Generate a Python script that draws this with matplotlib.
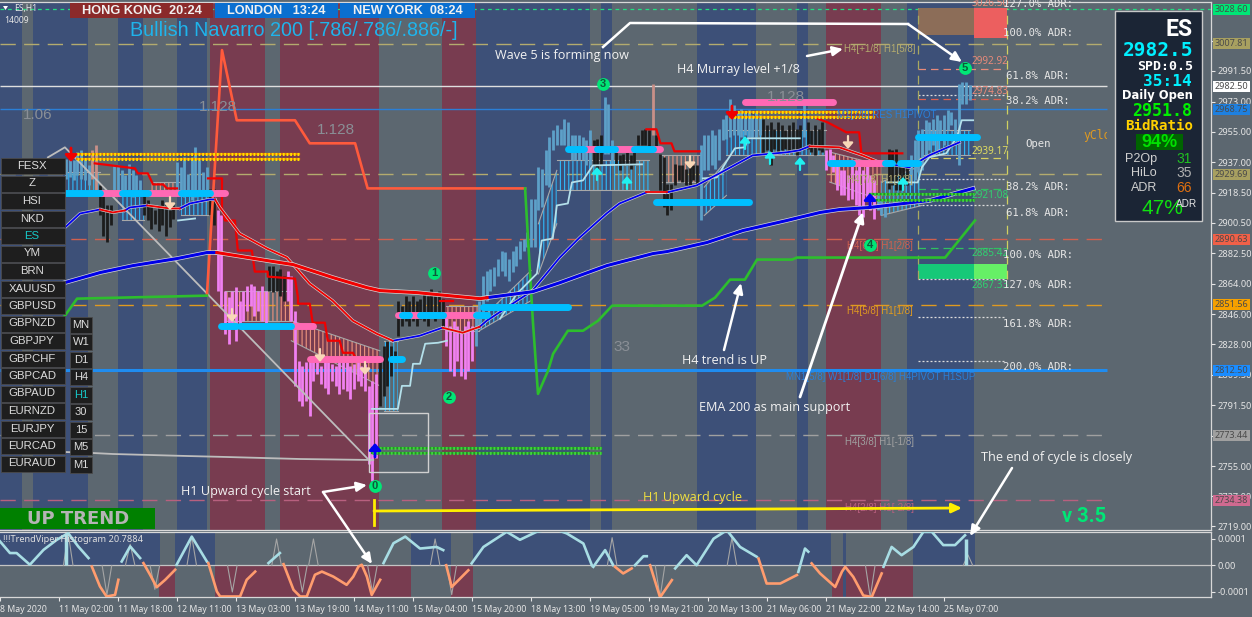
import matplotlib
matplotlib.use("Agg")
import matplotlib.pyplot as plt
from matplotlib.patches import Rectangle

W, H = 1252, 617
BG = '#5c6770'; BLUEBG = '#3d5078'; REDBG = '#783c50'
plt.rcParams['hatch.linewidth'] = 0.85

# ---------- shaded sessions (bar index) ----------
blue_spans = [(0,6),(8.9,23.9),(32,38.8),(48,56.1),(129.1,160),(163,166),(189,205),(216.1,219.1),(246,264.1)]
red_spans = [(56.9,71.9),(75.9,102.8),(119.9,129.1),(224,238.9)]
sub_blue = [(0,43.4),(47.5,58.3),(111.5,122.3),(128.3,225.4),(228.6,229.4),(247.6,264.4)]
sub_red = [(43.1,47.5),(58.3,111.5),(122.3,128.3),(225.6,229.4),(229.4,247.6)]

# ---------- levels ----------
level_price = [3007.81,2929.69,2890.63,2851.56,2773.44,2734.38]
level_color = ['#b3ab6e','#b3ab6e','#d0604f','#e09a20','#a0a0a0','#b8607f']
tag_price = [3028.60,3007.81,2982.50,2968.75,2929.69,2890.63,2851.56,2812.50,2773.44,2734.38]
tag_face = ['#00e676','#a8a060','#ffffff','#1e80e0','#a8a060','#f06048','#f5a000','#1a8cff','#a0a0a0','#d06a90']
adr_price = [2992.9,2977,2974.8,2939.2,2926.6,2921,2911,2885.4,2867,2844,2818]
adr_color = ['#e88a7a','#dddddd','#e0604f','#d8d060','#dddddd','#30c060','#dddddd','#30c060','#dddddd','#dddddd','#dddddd']
y_ticks = [3009.5,2991.5,2973,2955,2937,2918.5,2900.5,2882.5,2864,2846,2828,2809.5,2791.5,2773,2755,2737,2719]
y_hidden = [3009.5,2773]
x_labels = ['8 May 2020','11 May 02:00','11 May 18:00','12 May 11:00','13 May 03:00','13 May 19:00','14 May 11:00',
            '15 May 04:00','15 May 20:00','18 May 13:00','19 May 05:00','19 May 21:00','20 May 13:00','21 May 06:00',
            '21 May 22:00','22 May 14:00','25 May 07:00']

# ---------- candles: (colour, first bar, highs, lows) ----------
candles = [
 ('b',18,[2939,2941,2938,2943,2944,2939,2935],[2927,2928,2926,2929,2927,2926,2923]),
 ('r',25,[2944,2947],[2927,2920]),
 ('k',27,[2923,2917,2911,2911],[2905,2893,2889,2899]),
 ('b',31,[2935,2935,2932,2929,2936,2932,2929,2926],[2920,2917,2920,2917,2918,2916,2918,2919]),
 ('k',39,[2917,2914,2911,2908,2911,2914,2911,2908,2911],[2905,2902,2897,2900,2896,2899,2893,2898,2903]),
 ('b',48,[2937,2934,2940,2930,2940,2946,2938,2931,2934],[2919,2917,2916,2920,2914,2916,2920,2919,2918]),
 ('k',57,[2921,2921],[2905,2899]),
 ('p',59,[2908,2905,2860,2856,2860,2862,2854],[2860,2850,2834,2828,2840,2830,2838]),
 ('p',66,[2860,2863,2864,2863,2860,2863,2860],[2842,2848,2851,2845,2848,2842,2839]),
 ('k',73,[2875,2875,2872,2873,2869],[2860,2859,2860,2857,2854]),
 ('p',78,[2872,2869],[2854,2842]),
 ('p',80,[2848,2818,2815,2817,2818],[2803,2794,2791,2794,2785]),
 ('p',85,[2820,2818,2815,2818,2817,2816,2815,2820,2819,2817,2815,2816,2818,2815,2816],
         [2806,2810,2804,2802,2798,2806,2803,2798,2801,2800,2795,2801,2806,2803,2800]),
 ('p',100,[2803,2806,2810],[2756,2746,2760]),
 ('k',103,[2821,2827,2830,2827,2824],[2791,2797,2803,2809,2818]),
 ('k',108,[2854,2851,2857,2854,2857,2854,2855,2859,2857,2861,2857,2860,2855],
          [2833,2839,2842,2839,2842,2839,2843,2842,2839,2845,2842,2845,2839]),
 ('p',121,[2845,2839,2842,2839,2836,2839,2842,2839],[2827,2812,2809,2818,2809,2807,2812,2818]),
 ('b',129,[2848,2854,2869,2872],[2827,2839,2845,2854]),
 ('b',133,[2873,2874,2879,2884,2883,2879,2884,2887,2890,2891,2895],[2860,2863,2869,2872,2869,2866,2871,2875,2879,2884,2886]),
 ('b',144,[2915,2915,2934,2933,2944,2952],[2886,2886,2908,2910,2923,2922]),
 ('b',150,[2956,2959,2957,2963,2961,2953],[2944,2947,2947,2947,2944,2938]),
 ('b',156,[2953,2953,2952,2950,2956],[2938,2938,2938,2935,2935]),
 ('k',161,[2950,2951,2953],[2935,2932,2935]),
 ('b',164,[2976,2972,2950],[2942,2942,2935]),
 ('k',167,[2943,2941,2942,2943,2941,2944,2953,2956,2957,2956],[2935,2932,2935,2935,2933,2935,2947,2947,2947,2944]),
 ('r',177,[2984],[2953]),
 ('k',178,[2953,2942,2940,2924,2924],[2946,2920,2910,2905,2908]),
 ('k',183,[2936,2935,2935,2933,2937,2935,2935],[2923,2926,2925,2923,2923,2926,2923]),
 ('b',190,[2947,2953,2953,2956,2953,2957],[2902,2932,2932,2935,2933,2938]),
 ('b',196,[2963,2965,2975,2971,2967,2969,2967,2968,2965,2967,2965],[2950,2951,2952,2953,2953,2952,2953,2952,2952,2952,2953]),
 ('k',207,[2963,2959,2961,2957,2961,2959,2956,2959,2961,2957,2959],[2941,2944,2935,2945,2943,2944,2945,2943,2945,2941,2944]),
 ('b',218,[2972],[2952]),
 ('k',219,[2961,2956,2959,2957,2961],[2945,2943,2941,2944,2943]),
 ('p',224,[2944,2945,2941,2935,2932],[2932,2935,2931,2920,2917]),
 ('p',229,[2932,2929,2935,2932,2935,2932,2935,2929,2926],[2917,2914,2915,2911,2905,2904,2914,2908,2903]),
 ('b',238,[2917,2914,2911],[2908,2905,2904]),
 ('k',241,[2945,2944,2945,2938,2935,2935],[2921,2923,2920,2920,2923,2923]),
 ('b',247,[2941,2950,2956,2957],[2923,2926,2931,2932]),
 ('b',251,[2962,2961,2963,2965,2962,2965,2968,2967,2963],[2941,2944,2947,2944,2950,2947,2956,2959,2953]),
 ('b',260,[2984,2985,2985,2983],[2935,2972,2972,2974]),
]
candle_cols = {'b':'#5da0c8','k':'#1c1c1c','p':'#f080f0','r':'#c89088'}

# ---------- clouds: first bar, last bar, top0, top1, bottom0, bottom1, colour ----------
clouds = [
 (18,27,2930.8,2930.8,2917,2917,'b'),(33,39,2917,2917,2902,2902,'b'),(41,49,2924.8,2924.8,2917,2917,'r'),
 (49,57,2920,2920,2905,2905,'b'),(61,79,2860,2860,2842,2842,'r'),(79,103,2842,2824,2830,2803,'r'),
 (104,108,2830,2830,2788,2788,'b'),(121,130,2851,2851,2836,2836,'r'),(130,144,2842,2872,2836,2854,'b'),
 (146,151,2900,2932,2870,2900,'b'),(151,176,2938,2938,2920,2920,'b'),(179,190,2941,2941,2925,2925,'r'),
 (191,197,2922,2938,2905,2917,'b'),(197,224,2956,2956,2941,2941,'b'),(225,239,2943,2935,2925,2914,'r'),
 (239,250,2925,2935,2905,2911,'b'),(250,263,2956,2956,2941,2941,'b'),
]

# ---------- thick bars: price, first bar, last bar, colour ----------
thick_pink = [(2918.2,27,33),(2918.2,40,49),(2918.2,57,61),(2839,79,85),(2819.2,84,103),(2845.6,108,118),(2845.6,120,130),
              (2944.6,158.5,162),(2944.6,166.7,172),(2944.6,177,179),(2972.8,202,226),(2936.2,231,241)]
thick_cyan = [(2918.2,17.6,27),(2918.2,33,40),(2918.2,49,57),(2839,60,64),(2839,65,79),(2819.2,106,109),(2845.6,109,111),
              (2845.6,114,120),(2845.6,129,132),(2850.4,131,154),(2944.6,154,158.5),(2944.6,162,166.7),(2944.6,172,177),
              (2912.8,178,203),(2936.2,225,231),(2936.2,240,242),(2936.2,244,249),(2951.8,249,265)]

zig_yellow = [(2942,21,81),(2939,21,81),(2967,198,237),(2964,198,237)]
zig_green = [(2766,101,163),(2763,101,163),(2918,236,264),(2914,236,264)]

# ---------- moving averages ----------
ema200_blue = [([17.6,27.1,36.1,48,56.1,58.8],[2864.8,2870.8,2875,2879.2,2882.8,2882.8]),
 ([132.1,144.5,151.9,164.6,177.1,180.9,191.7,201.5,213.4,222.4,227.8,235.9,252.2,263.9],
  [2855.8,2859.4,2864.8,2875,2882.2,2883.4,2888.8,2896,2902,2906.8,2908.6,2909.8,2914,2921.2])]
ema200_red = [([58.8,72.4,79.5,90.3,99.5,103.1,113.1,130.2,132.1],[2882.8,2878,2875.6,2867.8,2861.8,2860,2858.8,2855.2,2855.8])]
fast_blue = [([17.6,21.7,27.1],[2897.8,2906.2,2908.6]),([33.9,35.2,39.9],[2908,2909.8,2911]),
 ([48.8,51.5,56.9,58.3],[2909.2,2912.2,2914.6,2914.6]),([106.5,113.8,120],[2830,2833,2837.8]),
 ([130.1,132,144.4,151.8,157.2,164.5,168,175.3],[2838.4,2842,2860,2879.8,2891.8,2906.2,2912.2,2918.8]),
 ([180.8,188.9,195.1,204.1,213.3,216.8,219.5],[2918.8,2923,2930.2,2941,2942.8,2944,2946.4]),
 ([238.5,246.6,252,260.2],[2936.8,2933.8,2941,2948.8])]
fast_red = [([27.1,30.6,33.9],[2908.6,2906.8,2908]),([39.9,46.1,48.8],[2911,2909.2,2909.2]),
 ([58.3,59.6,65,72.4,77.8,84,90.2,95.7,102.2,106.5],[2914.6,2909.8,2894.2,2885.2,2879.8,2864.2,2854,2842,2834.2,2830]),
 ([120,125.5,130.1],[2837.8,2834.8,2838.4]),([175.3,180.8],[2918.8,2918.8]),
 ([219.5,227.6,233.9,238.5],[2946.4,2945.8,2941,2936.8])]
red_steps = [([25.7,36.6,37.4,40.1,41.5,44.2,45.3,48],[2936.2,2933.2,2930.2,2930.2,2923.6,2923.6,2921.2,2921.2]),
 ([56.4,60.2,60.2,61,63.7,64.5,68.3,69.1,72.6,72.6,80,80.8,80.8,84,84.8,88.1,88.9,92.1,93,95.7,96.7,99.7],
  [2927.2,2927.2,2909.8,2902,2902,2884,2884,2871.4,2871.4,2868.4,2867.2,2855.8,2852.2,2852.2,2840.8,2840.8,2830,2830,2822.8,2822.8,2818.6,2818.6]),
 ([119.2,122.8],[2854,2854]),
 ([175.3,178,179.1,182.1,182.9,189.7],[2956.6,2956.6,2948.2,2948.2,2943.4,2943.4]),
 ([221.4,224.4,229.5,233,233.6,238.5,244.7],[2963.2,2960.8,2954.8,2954.8,2942.2,2942.2,2942.2])]
orange_x = [56.1,60.2,64.2,80,84,96.3,99.7,142.4]
orange_y = [2857,3004,2962,2962,2948.2,2948.2,2921.2,2921.2]
green_lines = [([13.6,17.6,20.9,56.1],[2836,2845,2855.2,2857]),
 ([142.4,142.9,144.5,145.9,148.6,150,154,158.1,162.2,166,190.4,193.9,198,202,205.3,214.8,216.1,256.3,264.4],
  [2921.2,2902,2842,2798.2,2812,2822.2,2836,2836,2842,2851,2851,2855.8,2866.6,2866.6,2878.6,2878.6,2879.8,2879.8,2902])]
grey_lines = [([13,17.6,100.3],[2939.8,2945.8,2758]),
 ([17.6,25.2,30.6,40.7,50.7,61.6,81.4,101.2],[2763.4,2762.8,2762.2,2761.6,2761,2760.4,2759.2,2758.6])]
pale_lines = [([48.3,52.9],[2902,2903.2]),
 ([100.9,107.9,109,111.2,112,113.9,115.3,118.8,121.2],[2789.2,2789.2,2803,2803,2816.2,2816.2,2828.2,2828.8,2830]),
 ([135.6,140.2,145.6,146.9,149.9,151,154,155.1,158.1,160.8,174.1],[2843.2,2858.2,2870.2,2890,2891.2,2911,2912.2,2924.8,2926,2935,2935.6]),
 ([190.6,194.4,197.2,199.3,202,202.8,216.9],[2927.2,2927.8,2938,2945.2,2945.8,2951.2,2951.2]),
 ([240.5,248.9,250,252,256.6,259.5,260.8,263.9],[2924.8,2924.8,2933.8,2939.8,2942.2,2951.8,2962,2962])]

# ---------- oscillator (units of 0.0001) ----------
osc_cyan = [([0,2.7,4.5,8.1,11.8,15.4,18.5,21.2,24],[.91,.47,.47,.03,.59,.97,1.22,.72,.28]),
 ([33,35.3,38],[.15,.72,.28]),([47.9,52,56.1],[.03,1.09,.15]),([72.8,75.9],[.09,.47]),
 ([104,106.7,109.9,113.9,118.4,120.2],[.09,.84,1.09,.64,.70,.58]),
 ([127.9,131.1,137.4,141,145.5,150,153.7,158.2,160.5],[.08,.70,1.27,.97,1.27,1.4,1.21,.83,.01]),
 ([160.9,164.1,166.3],[-.05,.58,.01]),([172.2,174.5,175.4],[.01,.35,.35]),
 ([183.1,186.2,188.9,193.5,197.1,200.7,205.2],[-.11,.39,.01,1.01,1.33,.70,.33]),
 ([216.5,218.3,219.2],[-.24,.64,.52]),
 ([239.6,241.8,244.5,247.7,250.4,252.7,255.8,259,261.7],[-.05,.70,.39,.70,1.27,1.27,.77,.77,1.14])]
osc_orange = [([24.9,27.1,28.9,31.2,32.1],[-.04,-.79,-1.17,-1.11,-.54]),
 ([38.9,40.7,42.5,44.8,47.5],[.09,-.35,-.82,-.54,-.16]),
 ([56.5,58.8,59.7,65.1,66.9,69.2],[.09,-.98,-1.17,-1.17,-.54,-.23]),
 ([76.9,79.6,81.4,83.2,85.4,87.3,90.4,94,95.8,97.2,98.1,99.5,100.8,103.1],[.05,-.92,-1.17,-1.17,-.35,-.23,-.42,-.73,-.42,-.04,.03,-.42,-1.11,-.54]),
 ([121,122.5,127],[.01,-.81,-.18]),([166.8,169,171.3],[-.05,-.30,-.11]),([176.3,179,182.2],[.01,-1.2,-.55]),
 ([205.7,207.9,211.6,216.1],[.26,-.68,-.68,-.36]),
 ([220.1,222.4,226.5,228.3,229.2,231.4,234.1,236.4,239.1],[.08,-.30,-.81,-.24,-.05,-.43,-1.13,-1.19,-.30])]
osc_hist_bar = [17.9,261.9]
osc_hist_val = [1.22,1.0]
spike_bar = [18.5,35.3,52,75,85,118,166,198.5,262.5,29,42,63,82,101,122.5,179,236]
spike_val = [1.2,.8,1.1,1.0,1.0,1.0,1.05,1.05,.4,-1.1,-.9,-1.0,-1.0,-1.0,-1.1,-1.2,-1.2]

fig = plt.figure(figsize=(W/100, H/100), dpi=100, facecolor=BG)
L, R = 0, 1211
def box(left, top, right, bottom):
    return [left/W, 1-bottom/H, (right-left)/W, (bottom-top)/H]
ax = fig.add_axes(box(L, 2, R, 530), facecolor=BG)
sub = fig.add_axes(box(L, 532, R, 597), facecolor=BG)
ov = fig.add_axes([0,0,1,1], facecolor='none', zorder=10)
ov.set_xlim(0,W); ov.set_ylim(H,0); ov.axis('off')
XMAX = R/3.6875
ax.set_xlim(0,XMAX); ax.set_ylim(2716.7,3032.8)
sub.set_xlim(0,XMAX); sub.set_ylim(-1.189,1.264)

for s,e in blue_spans: ax.axvspan(s,e,color=BLUEBG,lw=0,zorder=0)
for s,e in red_spans: ax.axvspan(s,e,color=REDBG,lw=0,zorder=0)
for s,e in sub_blue: sub.fill_between([s,e],0,1.264,color=BLUEBG,lw=0,zorder=0)
for s,e in sub_red: sub.fill_between([s,e],-1.189,0,color=REDBG,lw=0,zorder=0)
sub.fill_between([228.6,229.4],-1.189,0,color=BLUEBG,lw=0,zorder=0)

# levels
for p,c in zip(level_price,level_color):
    ax.hlines(p,0,300.2,color=c,lw=1,linestyles=(0,(11,6)),zorder=1)
ax.hlines(3028.6,0,XMAX,color='#20e080',lw=.9,linestyles=(0,(3,3)),zorder=1)
ax.hlines(2982.5,0,300.2,color='#dfdfdf',lw=1,zorder=1)
ax.hlines(2968.75,0,300.2,color='#2a7fd8',lw=1,zorder=1)
ax.hlines(2812.5,0,300.2,color='#1f8cf0',lw=2.2,zorder=1)

# ADR levels
ax.fill_between([249,264],3013,3029,color='#8c6d58',lw=0,zorder=1)
ax.fill_between([264,273],3011,3029,color='#ec5f5f',lw=0,zorder=1)
ax.fill_between([249,264],2867,2876,color='#16c878',lw=0,zorder=1)
ax.fill_between([264,273],2867,2876,color='#66f066',lw=0,zorder=1)
for p,c in zip(adr_price,adr_color):
    ls = (0,(1.6,1.6)) if c=='#dddddd' else (0,(6,4))
    ax.hlines(p,249,272.4,color=c,lw=.9,linestyles=ls,zorder=1.5)
ax.vlines(249,2867,3029,color='#a8a860',lw=.9,linestyles=(0,(7,5)),zorder=1.5)
ax.vlines(273,2867,3029,color='#d0d060',lw=.9,linestyles=(0,(7,5)),zorder=1.5)

# clouds
for s,e,t0,t1,b0,b1,k in clouds:
    c = '#30b4f4' if k=='b' else '#e8907c'
    ax.fill_between([s,e],[t0,t1],[b0,b1],facecolor='none',edgecolor=c,hatch='||||',lw=0,zorder=2)
    ax.plot([s,e],[t0,t1],color='#a8a8a8',lw=.8,zorder=2.1)
    ax.plot([s,e],[b0,b1],color='#a8a8a8',lw=.8,zorder=2.1)

# candles
for col,first,hi,lo in candles:
    xs = [first+i for i in range(len(hi))]
    ax.vlines(xs,lo,hi,color=candle_cols[col],lw=2.0,zorder=3)

# lines
for x,y in grey_lines:
    ax.plot(x,y,color='#bdbdbd',lw=1.3,zorder=3.5)
ax.plot(orange_x,orange_y,color='#ff5a3c',lw=1.9,zorder=4)
for x,y in green_lines: ax.plot(x,y,color='#2dbe2d',lw=1.9,zorder=4)
for x,y in red_steps: ax.plot(x,y,color='#f00000',lw=1.6,zorder=5)
for x,y in pale_lines: ax.plot(x,y,color='#b4e0ea',lw=1.3,zorder=5)
for x,y in fast_blue+fast_red: ax.plot(x,y,color='#d0d0d0',lw=2.2,zorder=5.5)
for x,y in fast_blue: ax.plot(x,y,color='#0000ee',lw=1.3,zorder=5.6)
for x,y in fast_red: ax.plot(x,y,color='#ee0000',lw=1.3,zorder=5.6)
for x,y in ema200_blue+ema200_red: ax.plot(x,y,color='#d8d8d8',lw=3.2,zorder=5.7)
for x,y in ema200_blue: ax.plot(x,y,color='#0000e6',lw=2.2,zorder=5.8)
for x,y in ema200_red: ax.plot(x,y,color='#f00000',lw=2.2,zorder=5.8)

# thick bars
for p,a,b in thick_pink: ax.plot([a,b],[p,p],color='#ff69b4',lw=5,solid_capstyle='round',zorder=6)
for p,a,b in thick_cyan: ax.plot([a,b],[p,p],color='#00bfff',lw=5,solid_capstyle='round',zorder=6.1)
for p,a,b in zig_yellow:
    ax.plot([a,b],[p,p],color='#e88000',lw=1.6,zorder=6.2)
    ax.plot([a,b],[p,p],color='#ffe000',lw=2.2,ls=(0,(.6,.6)),zorder=6.3)
for p,a,b in zig_green:
    ax.plot([a,b],[p,p],color='#1f9a1f',lw=1.6,zorder=6.2)
    ax.plot([a,b],[p,p],color='#40d040',lw=2.2,ls=(0,(.6,.6)),zorder=6.3)

# right axis
ax.yaxis.tick_right()
ax.set_yticks(y_ticks); ax.set_yticklabels(['' if v in y_hidden else f'{v:.2f}' for v in y_ticks])
ax.set_xticks([])
ax.tick_params(axis='y',colors='#e6e6e6',labelsize=6.6,length=3,pad=1.5,width=.8)
for l in ax.get_yticklabels(): l.set_fontfamily('Noto Sans')
for k,s in ax.spines.items():
    s.set_visible(k in ('right','bottom','top')); s.set_color('#d8d8d8'); s.set_linewidth(.9)

# oscillator
sub.axhline(0,color='#c4c4c4',lw=.9,zorder=1)
for b,v in zip(spike_bar,spike_val):
    sub.plot([b-1.3,b,b+1.3],[0,v,0],color='#a5a5a5',lw=.8,zorder=1.5)
sub.vlines(osc_hist_bar,0,osc_hist_val,color='#a8dde4',lw=2.5,zorder=2)
for x,y in osc_cyan: sub.plot(x,y,color='#a8dde4',lw=1.9,zorder=3)
for x,y in osc_orange: sub.plot(x,y,color='#ff9c6e',lw=1.9,zorder=3)
sub.yaxis.tick_right()
sub.set_yticks([1,0,-1]); sub.set_yticklabels(['0.0001','0.00','-0.0001'])
sub.set_xticks([16*i for i in range(len(x_labels))])
sub.set_xticklabels(x_labels,ha='left')
sub.tick_params(axis='y',colors='#e6e6e6',labelsize=6.6,length=3,pad=1.5,width=.8)
sub.tick_params(axis='x',colors='#e6e6e6',labelsize=6.3,length=3,pad=2.5,width=.8)
for l in sub.get_xticklabels()+sub.get_yticklabels(): l.set_fontfamily('Noto Sans')
for s in sub.spines.values(): s.set_color('#d8d8d8'); s.set_linewidth(.9)
sub.spines['left'].set_visible(False)

# ------- overlay: panels, labels, annotations (pixel layout) -------
def T(x,y,s,color='white',size=8,family='Liberation Sans',ha='left',va='center',weight='normal',**k):
    return ov.text(x,y,s,color=color,fontsize=size,family=family,ha=ha,va=va,weight=weight,**k)
OS='Open Sans'; MONO='DejaVu Sans Mono'

# tags
for p,f in zip(tag_price,tag_face):
    y = (3034-p)/0.5986
    ov.add_patch(Rectangle((1213,y-5.5),37,11,fc=f,ec='none',zorder=5))
    T(1231.5,y,f'{p:.2f}',color='#4a4a4a',size=6.5,family='Noto Sans',ha='center',zorder=6)

# sessions
for x0,x1,c,s in [(70,213,'#8b2a2a','HONG KONG  20:24'),(215,338,'#0a6fd0','LONDON   13:24'),(340,475,'#0a6fd0','NEW YORK  08:24')]:
    ov.add_patch(Rectangle((x0,3),x1-x0,15,fc=c,ec='none'))
    T((x0+x1)/2,10.5,s,size=9.2,weight='bold',ha='center',color='#f0f0f0')
T(130,31,'Bullish Navarro 200 [.786/.786/.886/-]',color='#1fb4ec',size=14.2)
T(14,8.5,'ES,H1',size=6.2,family='Noto Sans',color='#e6e6e6')
T(4,20.5,'14009',size=6.2,family='Noto Sans',color='#e6e6e6')
ov.fill([3,8,5.5],[6,6,10],color='white',lw=0)

# grey ratios
for x,y,s,fs in [(23,115,'1.06',11),(199,107,'1.128',11),(317,130,'1.128',11),(767,97,'1.128',11),(613,347,'33',11)]:
    T(x,y,s,color='#8a8f96',size=fs)

# symbols
syms = ['FESX','Z','HSI','NKD','ES','YM','BRN','XAUUSD','GBPUSD','GBPNZD','GBPJPY','GBPCHF','GBPCAD','GBPAUD','EURNZD','EURJPY','EURCAD','EURAUD']
for i,s in enumerate(syms):
    y = 166+i*17.5
    ov.add_patch(Rectangle((1,y-8),64,16,fc='#1e1e1e',ec='#4a4a4a',lw=.6))
    T(32,y,s,size=8.2,ha='center',color='#17c8c8' if s=='ES' else '#dcdcdc')
tfs = ['MN','W1','D1','H4','H1','30','15','M5','M1']
for i,s in enumerate(tfs):
    y = 324.7+i*17.5
    ov.add_patch(Rectangle((70,y-8),22,16,fc='#1e1e1e',ec='#4a4a4a',lw=.6))
    T(81,y,s,size=8,ha='center',color='#17c8c8' if s=='H1' else '#dcdcdc')

# level labels
for x,y,s,c in [(844,49,'H4[+1/8] H1[5/8]','#b3ab6e'),(847,180,'H4[7/8] H1[3/8]','#b3ab6e'),(847,246,'H4[6/8] H1[2/8]','#d0604f'),
                (847,311,'H4[5/8] H1[1/8]','#e09a20'),(786,377,'MN1[5/8] W1[1/8] D1[6/8] H4PIVOT H1SUP','#2a7fd8'),
                (845,442,'H4[3/8] H1[-1/8]','#a0a0a0'),(845,508,'H4[2/8] H1[-2/8]','#b8607f'),(837,115,'M1[7/8] RES H1PIVOT','#2a7fd8')]:
    T(x,y,s,color=c,size=7)
for x,y,s,c in [(972,3,'3026.50','#e88a7a'),(972,61,'2992.92','#e88a7a'),(972,92,'2974.83','#e88a7a'),(971,152,'2939.17','#e0dc60'),
                (971,195,'2921.08','#30d070'),(971,254,'2885.42','#30d070'),(971,285,'2867.33','#30d070')]:
    T(x,y,s,color=c,size=7.2,family='Noto Sans')
for x,y,s in [(1003,4,'127.0% ADR:'),(1003,33,'100.0% ADR:'),(1006,76,'61.8% ADR:'),(1006,101,'38.2% ADR:'),(1006,187,'38.2% ADR:'),
              (1006,213,'61.8% ADR:'),(1003,255,'100.0% ADR:'),(1003,285,'127.0% ADR:'),(1003,324,'161.8% ADR:'),(1003,367,'200.0% ADR:')]:
    T(x,y,s,size=7.7,family=MONO,color='#e6e6e6')
T(1025,144,'Open',size=7.7,family=MONO,color='#e6e6e6')
t=T(1083,136,'yClose',size=8.3,family=MONO,color='#e09a20')
t.set_clip_path(Rectangle((1075,120),32,30,transform=ov.transData)); t.set_clip_on(True)

# info panel
ov.add_patch(Rectangle((1115,11),87,210,fc='#1b2535',ec='#c8c8c8',lw=1))
MX=1193
T(MX,29,'ES',size=16.5,family='Roboto',weight='bold',ha='right')
T(MX,50,'2982.5',size=14,family=MONO,weight='bold',ha='right',color='#00f0ff')
T(MX,67,'SPD:0.5',size=9.6,family=MONO,weight='bold',ha='right')
T(MX-1,82,'35:14',size=11.6,family=MONO,weight='bold',ha='right',color='#00f0ff')
T(MX,96,'Daily Open',size=8.3,weight='bold',family='DejaVu Sans',ha='right')
T(MX-1,111,'2951.8',size=12,family=MONO,weight='bold',ha='right',color='#00f000')
T(MX,126,'BidRatio',size=10.2,family=MONO,weight='bold',ha='right',color='#ffd000')
ov.add_patch(Rectangle((1136,134),47,16,fc='#006400',ec='none'))
T(1159.5,142.5,'94%',size=13,ha='center',color='#00e000',weight='bold')
for y,a,b,c in [(159,'P2Op','31','#20c020'),(173,'HiLo','35','#b0b0b0'),(188,'ADR','66','#e07010')]:
    T(1157,y,a,size=9,ha='right',color='#d0d0d0'); T(1192,y,b,size=10,ha='right',color=c)
T(1141,208,'47%',size=15,color='#10e010')
T(1176,204,'ADR',size=7.2,color='#e6e6e6')

# badges
for x,y,s in [(375,486,'0'),(434,273,'1'),(449,397,'2'),(603,84,'3'),(870,245,'4'),(965,68,'5')]:
    ov.scatter([x],[y],s=85,color='#00e676',lw=0,zorder=4)
    T(x,y,s,color='#0c5a3a',size=8,ha='center',weight='bold',zorder=5)

# white annotations
def arrow(a,b,c='white',lw=1.8,head=True):
    style = '-|>,head_width=.28,head_length=.6' if head else '-'
    ov.annotate('',xy=b,xytext=a,arrowprops=dict(arrowstyle=style,color=c,lw=lw,shrinkA=0,shrinkB=0))
NOTE = 9.1
T(495,55,'Wave 5 is forming now',size=NOTE,family=OS,color='#f2f2f2')
ov.plot([603,630,908],[47,23,24],color='white',lw=1.8)
arrow((908,24),(962,62))
T(677,70,'H4 Murray level +1/8',size=NOTE,family=OS,color='#f2f2f2')
arrow((807,56),(843,49))
T(682,361,'H4 trend is UP',size=NOTE,family=OS,color='#f2f2f2')
arrow((724,350),(741,283))
T(699,408,'EMA 200 as main support',size=NOTE,family=OS,color='#f2f2f2')
arrow((800,397),(863,212),lw=2)
T(181,492,'H1 Upward cycle start',size=NOTE,family=OS,color='#f2f2f2')
arrow((323,492),(367,485))
arrow((323,492),(372,564))
T(643,498,'H1 Upward cycle',size=NOTE,family=OS,color='#f0e040')
ov.plot([374,374],[500,525],color='#ffee00',lw=2)
arrow((374,511),(962,508),c='#ffee00',lw=2)
T(981,458,'The end of cycle is closely',size=NOTE,family=OS,color='#f2f2f2')
arrow((1012,468),(970,536))
T(1062,516,'v 3.5',size=14.5,family='Roboto',weight='bold',color='#00e676')
ov.add_patch(Rectangle((0,508),155,21,fc='#008000',ec='none'))
T(78,519,'UP TREND',size=13,family='DejaVu Sans',weight='bold',color='#b4b4b4',ha='center')
T(3,540,'!!!TrendViper Histogram 20.7884',size=6.6,family='Noto Sans',color='#e0e0e0')

# direction arrows
for x,y in [(597,173),(627,182),(745,142),(770,157),(800,163),(903,183)]:
    ov.annotate('',xy=(x,y-6),xytext=(x,y+7),arrowprops=dict(arrowstyle='-|>,head_width=.3,head_length=.35',color='#20f0f0',lw=1.6,shrinkA=0,shrinkB=0))
for x,y in [(170,203),(232,315),(320,355),(690,162),(848,142),(365,368)]:
    ov.annotate('',xy=(x,y+7),xytext=(x,y-6),arrowprops=dict(arrowstyle='-|>,head_width=.3,head_length=.35',color='#f8d8b8',lw=1.6,shrinkA=0,shrinkB=0))
for x,y in [(375,450),(870,200)]:
    ov.annotate('',xy=(x,y-7),xytext=(x,y+7),arrowprops=dict(arrowstyle='-|>,head_width=.35,head_length=.4',color='#0000f0',lw=2,shrinkA=0,shrinkB=0))
for x,y in [(71,155),(732,113)]:
    ov.annotate('',xy=(x,y+7),xytext=(x,y-7),arrowprops=dict(arrowstyle='-|>,head_width=.35,head_length=.4',color='#f00000',lw=2,shrinkA=0,shrinkB=0))
ov.add_patch(Rectangle((369,413),59,59,fc='none',ec='#d0d0d0',lw=1))

fig.savefig('out.png',dpi=100,facecolor=BG)
